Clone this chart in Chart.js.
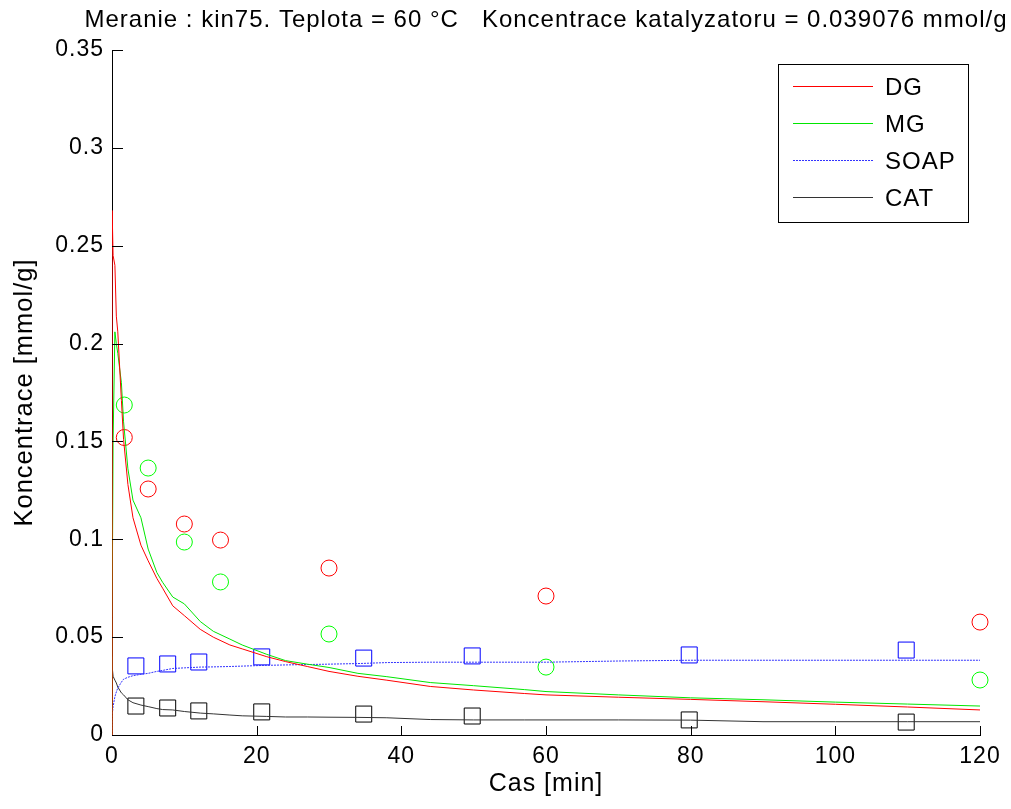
<!DOCTYPE html>
<html>
<head>
<meta charset="utf-8">
<script src="https://cdn.jsdelivr.net/npm/chart.js@4.4.1/dist/chart.umd.min.js"></script>
<style>
  html, body { margin: 0; padding: 0; background: #fff; }
  #wrap { width: 1011px; height: 809px; }
</style>
</head>
<body>
<div id="wrap"><canvas id="chart" width="1011" height="809"></canvas></div>
<script>
// measured points (circles / squares)
const dgTime = [1.7, 5, 10, 15, 30, 60, 120];
const dgMeasured = [0.152, 0.1257, 0.1078, 0.0996, 0.0853, 0.071, 0.0577];
const mgMeasured = [0.1686, 0.1364, 0.0986, 0.0782, 0.0516, 0.0347, 0.0281];
const soapTime = [3.3, 7.7, 12, 20.7, 34.8, 49.8, 79.8, 109.8];
const soapMeasured = [0.0353, 0.0363, 0.0373, 0.0399, 0.0393, 0.0404, 0.0409, 0.0434];
const catMeasured = [0.0148, 0.0138, 0.0123, 0.0118, 0.0107, 0.0097, 0.0077, 0.0066];

// model curves
const modelTime = [0, 0.02, 0.15, 0.4, 0.6, 0.8, 1.3, 1.6, 2.2, 2.9, 4, 5, 6.2, 7, 8.4, 10, 12.2, 14, 16.3, 18,
  21.4, 24, 27, 30, 34, 38, 44, 50, 57, 60, 70, 80, 90, 100, 110, 120];
const dgModel = [0, 0.268, 0.245, 0.240, 0.214, 0.206, 0.171, 0.151, 0.128, 0.111, 0.097, 0.089, 0.080, 0.075,
  0.066, 0.061, 0.054, 0.050, 0.046, 0.044, 0.040, 0.0375, 0.035, 0.0325, 0.030, 0.028, 0.0248, 0.023, 0.0212,
  0.0205, 0.0193, 0.0182, 0.0170, 0.0157, 0.0143, 0.0128];
const mgModel = [0, 0.06, 0.15, 0.206, 0.200, 0.195, 0.180, 0.160, 0.136, 0.120, 0.111, 0.095, 0.083, 0.078,
  0.0705, 0.067, 0.058, 0.053, 0.049, 0.046, 0.0412, 0.038, 0.0362, 0.0345, 0.0315, 0.0298, 0.0268, 0.0252,
  0.0232, 0.0222, 0.0205, 0.0190, 0.0180, 0.0168, 0.0158, 0.0148];
const soapModel = [0, 0.010, 0.0145, 0.0196, 0.022, 0.024, 0.027, 0.0285, 0.0295, 0.0303, 0.031, 0.0315, 0.0325,
  0.033, 0.034, 0.0343, 0.0347, 0.0348, 0.035, 0.0352, 0.0356, 0.0358, 0.036, 0.0362, 0.0365, 0.037, 0.0372,
  0.0372, 0.0372, 0.0372, 0.0378, 0.0382, 0.0382, 0.0382, 0.0382, 0.0382];
const catModel = [0.040, 0.035, 0.030, 0.028, 0.0266, 0.0245, 0.0215, 0.0205, 0.018, 0.0165, 0.0153, 0.0145,
  0.0135, 0.013, 0.0128, 0.012, 0.0112, 0.0108, 0.0102, 0.0098, 0.0095, 0.0092, 0.0092, 0.0091, 0.009, 0.0088,
  0.0079, 0.0077, 0.0077, 0.0077, 0.0077, 0.0076, 0.0068, 0.0068, 0.0068, 0.0068];

const legendLabels = ['DG', 'MG', 'SOAP', 'CAT'];
const yTickLabels = ['0', '0.05', '0.1', '0.15', '0.2', '0.25', '0.3', '0.35'];
const xTickLabels = ['0', '20', '40', '60', '80', '100', '120'];
const titleText = 'Meranie : kin75. Teplota = 60 °C   Koncentrace katalyzatoru = 0.039076 mmol/g';

const FONT = '"Liberation Sans", Arial, sans-serif';
Chart.defaults.font.family = FONT;
Chart.defaults.color = '#000';

const pts = (xs, ys) => xs.map((x, i) => ({x: x, y: ys[i]}));

function curve(label, ys, color, dash) {
  return {
    label: label,
    data: pts(modelTime, ys),
    showLine: true,
    borderColor: color,
    borderWidth: 1,
    borderDash: dash || [],
    pointRadius: 0,
    fill: false
  };
}

function marks(xs, ys, color, style, r) {
  return {
    data: pts(xs, ys),
    showLine: false,
    pointStyle: style,
    pointRadius: r,
    pointBorderColor: color,
    pointBackgroundColor: 'rgba(0,0,0,0)',
    pointBorderWidth: 1,
    clip: false
  };
}

// MATLAB style text is a bit wider, so space the letters out
const spacing = {
  id: 'spacing',
  beforeUpdate(chart) { chart.ctx.letterSpacing = '1px'; },
  beforeDraw(chart) { chart.ctx.letterSpacing = '1px'; }
};

// title centred over the plot area (the built-in one centres on the canvas)
const plotTitle = {
  id: 'plotTitle',
  afterDraw(chart) {
    const {ctx, chartArea: a} = chart;
    ctx.save();
    ctx.font = '24px ' + FONT;
    ctx.fillStyle = '#000';
    ctx.textAlign = 'center';
    ctx.textBaseline = 'middle';
    ctx.fillText(titleText, (a.left + a.right) / 2, 20);
    ctx.restore();
  }
};

// small ticks pointing into the plot
const innerTicks = {
  id: 'innerTicks',
  afterDraw(chart) {
    const {ctx, chartArea: a, scales: {x, y}} = chart;
    ctx.save();
    ctx.strokeStyle = '#000';
    ctx.lineWidth = 1;
    ctx.beginPath();
    y.ticks.forEach(t => {
      const py = Math.round(y.getPixelForValue(t.value)) + 0.5;
      ctx.moveTo(a.left, py);
      ctx.lineTo(a.left + 11, py);
    });
    x.ticks.forEach(t => {
      if (t.value === 0) return;
      const px = Math.round(x.getPixelForValue(t.value)) + 0.5;
      ctx.moveTo(px, a.bottom);
      ctx.lineTo(px, a.bottom - 9);
    });
    ctx.stroke();
    ctx.restore();
  }
};

const boxLegend = {
  id: 'boxLegend',
  afterDraw(chart) {
    const {ctx, chartArea: a} = chart;
    const left = Math.round(a.right) - 202, top = Math.round(a.top) + 14, w = 190, h = 158;
    ctx.save();
    ctx.fillStyle = '#fff';
    ctx.fillRect(left, top, w, h);
    ctx.strokeStyle = '#000';
    ctx.lineWidth = 1;
    ctx.strokeRect(left + 0.5, top + 0.5, w, h);
    ctx.font = '24px ' + FONT;
    ctx.textBaseline = 'middle';
    ctx.textAlign = 'left';
    legendLabels.forEach((label, i) => {
      const ds = chart.data.datasets[i];
      const yy = Math.round(top + 21.5 + i * 37.1) + 0.5;
      ctx.strokeStyle = ds.borderColor;
      ctx.lineWidth = 1;
      ctx.setLineDash(ds.borderDash);
      ctx.beginPath();
      ctx.moveTo(left + 15, yy);
      ctx.lineTo(left + 95, yy);
      ctx.stroke();
      ctx.fillStyle = '#000';
      ctx.fillText(label, left + 107, yy + 2);
    });
    ctx.restore();
  }
};

new Chart(document.getElementById('chart'), {
  type: 'scatter',
  data: {
    datasets: [
      curve('DG', dgModel, '#ff0000'),
      curve('MG', mgModel, '#00e600'),
      curve('SOAP', soapModel, '#3333ff', [2, 1]),
      curve('CAT', catModel, '#333333'),
      marks(dgTime, dgMeasured, '#ff0000', 'circle', 8),
      marks(dgTime, mgMeasured, '#00ff00', 'circle', 8),
      marks(soapTime, soapMeasured, '#0000ff', 'rect', 11.3),
      marks(soapTime, catMeasured, '#000000', 'rect', 11.3)
    ]
  },
  options: {
    responsive: false,
    animation: false,
    layout: { padding: { left: 0, right: 31, top: 50, bottom: 0 } },
    plugins: {
      legend: { display: false },
      tooltip: { enabled: false },
      title: { display: false }
    },
    scales: {
      x: {
        type: 'linear',
        min: 0,
        max: 120,
        afterFit(s) { s.height = 74; },
        border: { display: true, color: '#000', width: 1 },
        grid: { display: true, drawOnChartArea: false, drawTicks: false },
        ticks: {
          stepSize: 20,
          padding: 8,
          font: { size: 23 },
          color: '#000',
          maxRotation: 0,
          callback: (v, i) => xTickLabels[i]
        },
        title: {
          display: true,
          text: 'Cas [min]',
          font: { size: 25 },
          color: '#000',
          padding: { top: 0, bottom: 10 }
        }
      },
      y: {
        type: 'linear',
        min: 0,
        max: 0.35,
        afterFit(s) { s.width = 112; },
        border: { display: true, color: '#000', width: 1 },
        grid: { display: true, drawOnChartArea: false, drawTicks: false },
        ticks: {
          stepSize: 0.05,
          padding: 8,
          font: { size: 23 },
          color: '#000',
          callback: (v, i) => yTickLabels[i]
        },
        title: {
          display: true,
          text: 'Koncentrace [mmol/g]',
          font: { size: 25.5 },
          color: '#000',
          padding: { top: 10, bottom: 0 }
        }
      }
    }
  },
  plugins: [spacing, plotTitle, innerTicks, boxLegend]
});
</script>
</body>
</html>
